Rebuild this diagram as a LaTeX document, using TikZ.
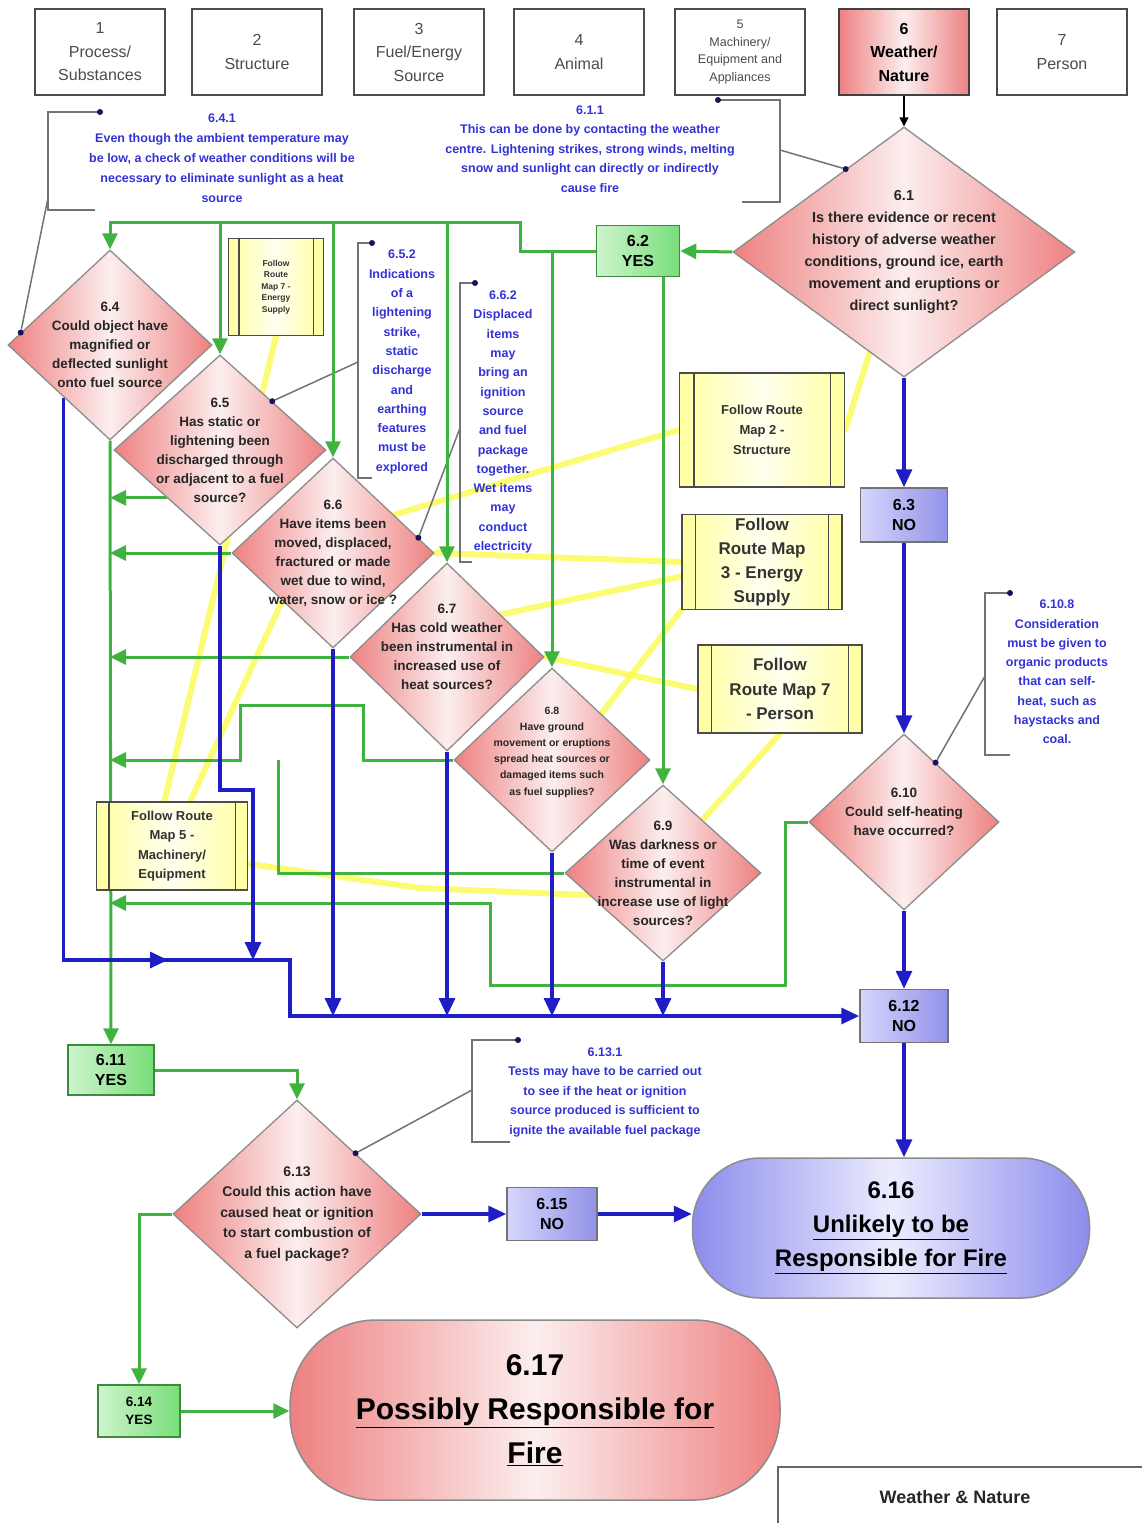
\documentclass[tikz,border=0pt]{standalone}
\usepackage{fontspec}
\setmainfont{Liberation Sans}
\usetikzlibrary{shapes.geometric,arrows.meta,calc}
\pgfdeclarelayer{bg}
\pgfdeclarelayer{lines}
\pgfsetlayers{bg,lines,main}

\definecolor{pinkd}{RGB}{238,128,128}
\definecolor{pinkl}{RGB}{252,238,238}
\definecolor{bluls}{RGB}{140,140,236}
\definecolor{blulc}{RGB}{236,236,255}
\definecolor{nol}{RGB}{214,214,252}
\definecolor{nor}{RGB}{146,146,232}
\definecolor{yesl}{RGB}{206,244,206}
\definecolor{yesr}{RGB}{120,222,120}
\definecolor{yesd}{RGB}{60,140,60}
\definecolor{yel}{RGB}{255,255,160}
\definecolor{grn}{RGB}{64,178,64}
\definecolor{blu}{RGB}{30,30,196}
\definecolor{ylw}{RGB}{250,250,70}
\definecolor{notecol}{RGB}{50,50,214}
\definecolor{navy}{RGB}{20,20,90}

\tikzset{
  topbox/.style={draw=black!70, line width=1.3pt, fill=white, minimum width=130pt,
    minimum height=86pt, align=center, text=black!70, inner sep=1pt,
    font=\fontsize{16}{23.5}\selectfont},
  dia/.style={diamond, draw=black!45, line width=1.3pt, inner sep=0pt,
    left color=pinkd, right color=pinkd, middle color=pinkl},
  dtxt/.style={align=center, inner sep=0pt, text=black!85,
    font=\bfseries\fontsize{13.5}{19}\selectfont},
  yesbox/.style={draw=yesd, line width=1.5pt, left color=yesl, right color=yesr,
    minimum width=83pt, minimum height=51pt, align=center, inner sep=0pt,
    font=\bfseries\fontsize{16}{20}\selectfont},
  nobox/.style={draw=black!55, line width=1.5pt, left color=nol, right color=nor,
    minimum width=87pt, minimum height=54pt, align=center, inner sep=0pt,
    font=\bfseries\fontsize{16}{20}\selectfont},
  route/.style={draw=black!70, line width=1.3pt, left color=yel, right color=yel,
    middle color=yellow!6, align=center, inner sep=0pt, text=black!80},
  routeline/.style={draw=black!70, line width=1.3pt},
  endbox/.style={rectangle, draw=black!45, line width=1.5pt, align=center, inner sep=0pt},
  note/.style={text=notecol, align=center, inner sep=0pt,
    font=\bfseries\fontsize{12.5}{19.3}\selectfont},
  bracket/.style={draw=black!55, line width=1.5pt},
  ndot/.style={circle, fill=navy, inner sep=0pt, minimum size=6pt},
  gline/.style={draw=grn, line width=3pt},
  garrow/.style={gline, -{Triangle[length=16pt,width=15pt]}},
  bline/.style={draw=blu, line width=3.2pt},
  barrow/.style={bline, -{Triangle[length=18pt,width=16pt]}},
  yline/.style={draw=ylw, line width=6pt, line cap=round, opacity=0.75},
}

\begin{document}
\begin{tikzpicture}[x=1pt,y=-1pt]
\useasboundingbox (0,0) rectangle (1142,1523);

% category boxes
\node[topbox] (t1) at (100,52) {1\\Process/\\Substances};
\node[topbox] (t2) at (257,52) {2\\Structure};
\node[topbox] (t3) at (419,52) {3\\Fuel/Energy\\Source};
\node[topbox] (t4) at (579,52) {4\\Animal};
\node[topbox,font=\fontsize{12.5}{17.5}\selectfont] (t5) at (740,52) {5\\Machinery/\\Equipment and\\Appliances};
\node[topbox,draw=black!75,left color=pinkd,right color=pinkd,middle color=pinkl,text=black,
  font=\bfseries\fontsize{16}{23.5}\selectfont] (t6) at (904,52) {6\\Weather/\\Nature};
\node[topbox] (t7) at (1062,52) {7\\Person};

% questions
\node[dia,minimum width=342pt,minimum height=250pt,label={[dtxt,font=\bfseries\fontsize{14.5}{22}\selectfont]center:{6.1\\Is there evidence or recent\\history of adverse weather\\conditions, ground ice, earth\\movement and eruptions or\\direct sunlight?}}] (d61) at (904,252) {};
\node[dia,minimum width=204pt,minimum height=190pt,label={[dtxt]center:{6.4\\Could object have\\magnified or\\deflected sunlight\\onto fuel source}}] (d64) at (110,345) {};
\node[dia,minimum width=212pt,minimum height=190pt,label={[dtxt]center:{6.5\\Has static or\\lightening been\\discharged through\\or adjacent to a fuel\\source?}}] (d65) at (220,450) {};
\node[dia,minimum width=202pt,minimum height=190pt,label={[dtxt]center:{6.6\\Have items been\\moved, displaced,\\fractured or made\\wet due to wind,\\water, snow or ice ?}}] (d66) at (333,553) {};
\node[dia,minimum width=194pt,minimum height=188pt,label={[dtxt,yshift=10pt]center:{6.7\\Has cold weather\\been instrumental in\\increased use of\\heat sources?}}] (d67) at (447,657) {};
\node[dia,minimum width=196pt,minimum height=184pt,label={[dtxt,yshift=8pt,font=\bfseries\fontsize{10.5}{16.2}\selectfont]center:{6.8\\Have ground\\movement or eruptions\\spread heat sources or\\damaged items such\\as fuel supplies?}}] (d68) at (552,760) {};
\node[dia,minimum width=196pt,minimum height=176pt,label={[dtxt]center:{6.9\\Was darkness or\\time of event\\instrumental in\\increase use of light\\sources?}}] (d69) at (663,873) {};
\node[dia,minimum width=190pt,minimum height=176pt,label={[dtxt,yshift=10pt]center:{6.10\\Could self-heating\\have occurred?}}] (d610) at (904,822) {};
\node[dia,minimum width=248pt,minimum height=228pt,label={[dtxt,font=\bfseries\fontsize{14}{20.5}\selectfont]center:{6.13\\Could this action have\\caused heat or ignition\\to start combustion of\\a fuel package?}}] (d613) at (297,1214) {};

% answers
\node[yesbox] (y62) at (638,251) {6.2\\YES};
\node[nobox] (n63) at (904,515) {6.3\\NO};
\node[yesbox,minimum width=86pt,minimum height=50pt] (y611) at (111,1070) {6.11\\YES};
\node[nobox,minimum width=88pt,minimum height=53pt] (n612) at (904,1016) {6.12\\NO};
\node[nobox,minimum width=90pt,minimum height=53pt] (n615) at (552,1214) {6.15\\NO};
\node[yesbox,minimum width=82pt,minimum height=52pt,font=\bfseries\fontsize{13.5}{18}\selectfont] (y614) at (139,1411) {6.14\\YES};

% outcomes
\node[endbox,rounded corners=68pt,minimum width=397pt,minimum height=140pt,
  left color=bluls,right color=bluls,middle color=blulc,
  font=\bfseries\fontsize{24}{34}\selectfont] (s616) at (891,1228)
  {6.16\\\underline{Unlikely to be}\\\underline{Responsible for Fire}};
\node[endbox,rounded corners=86pt,minimum width=490pt,minimum height=180pt,
  left color=pinkd,right color=pinkd,middle color=pinkl,
  font=\bfseries\fontsize{30}{44}\selectfont] (s617) at (535,1410)
  {6.17\\\underline{Possibly Responsible for}\\\underline{Fire}};

% route maps
\node[route,minimum width=95pt,minimum height=97pt,font=\bfseries\fontsize{8.5}{11.5}\selectfont] (fr7e) at (276,287) {Follow\\Route\\Map 7 -\\Energy\\Supply};
\node[route,minimum width=165pt,minimum height=114pt,font=\bfseries\fontsize{13}{20}\selectfont] (fr2) at (762,430) {Follow Route\\Map 2 -\\Structure};
\node[route,minimum width=160pt,minimum height=95pt,font=\bfseries\fontsize{17}{24}\selectfont] (fr3) at (762,562) {Follow\\Route Map\\3 - Energy\\Supply};
\node[route,minimum width=164pt,minimum height=88pt,font=\bfseries\fontsize{17}{24.5}\selectfont] (fr7p) at (780,689) {Follow\\Route Map 7\\- Person};
\node[route,minimum width=151pt,minimum height=88pt,font=\bfseries\fontsize{13}{19.5}\selectfont] (fr5) at (172,846) {Follow Route\\Map 5 -\\Machinery/\\Equipment};
\foreach \r/\o in {fr7e/11,fr2/15,fr3/14,fr7p/14,fr5/13} {
  \draw[routeline] ([xshift=\o pt]\r.north west) -- ([xshift=\o pt]\r.south west);
  \draw[routeline] ([xshift=-\o pt]\r.north east) -- ([xshift=-\o pt]\r.south east);
}

% notes
\node[note,font=\bfseries\fontsize{12.5}{20}\selectfont] (n641) at (222,158) {6.4.1\\Even though the ambient temperature may\\be low, a check of weather conditions will be\\necessary to eliminate sunlight as a heat\\source};
\draw[bracket] (100,112) -- (48,112) -- (48,210) -- (95,210);
\node[ndot] (k641) at (100,112) {};
\coordinate (c641) at (48,198);
\node[ndot] (p641) at ($(d64.west)!0.13!(d64.north)$) {};

\node[note,font=\bfseries\fontsize{12.5}{19.5}\selectfont] (n611) at (590,149) {6.1.1\\This can be done by contacting the weather\\centre. Lightening strikes, strong winds, melting\\snow and sunlight can directly or indirectly\\cause fire};
\draw[bracket] (718,100) -- (780,100) -- (780,202) -- (742,202);
\node[ndot] (k611) at (718,100) {};
\coordinate (c611) at (780,150);
\node[ndot] (p611) at ($(d61.north)!0.34!(d61.west)$) {};

\node[note] (n652) at (402,362) {6.5.2\\Indications\\of a\\lightening\\strike,\\static\\discharge\\and\\earthing\\features\\must be\\explored};
\draw[bracket] (372,243) -- (358,243) -- (358,478) -- (372,478);
\node[ndot] (k652) at (372,243) {};
\coordinate (c652) at (358,362);
\node[ndot] (p652) at ($(d65.north)!0.49!(d65.east)$) {};

\node[note] (n662) at (503,422) {6.6.2\\Displaced\\items\\may\\bring an\\ignition\\source\\and fuel\\package\\together.\\Wet items\\may\\conduct\\electricity};
\draw[bracket] (475,283) -- (460,283) -- (460,562) -- (472,562);
\node[ndot] (k662) at (475,283) {};
\coordinate (c662) at (460,428);
\node[ndot] (p662) at ($(d66.north)!0.84!(d66.east)$) {};

\node[note] (n6108) at (1057,672) {6.10.8\\Consideration\\must be given to\\organic products\\that can self-\\heat, such as\\haystacks and\\coal.};
\draw[bracket] (1010,593) -- (985,593) -- (985,755) -- (1010,755);
\node[ndot] (k6108) at (1010,593) {};
\coordinate (c6108) at (985,676);
\node[ndot] (p6108) at ($(d610.north)!0.33!(d610.east)$) {};

\node[note,font=\bfseries\fontsize{12.5}{19.5}\selectfont] (n6131) at (605,1092) {6.13.1\\Tests may have to be carried out\\to see if the heat or ignition\\source produced is sufficient to\\ignite the available fuel package};
\draw[bracket] (518,1040) -- (472,1040) -- (472,1142) -- (510,1142);
\node[ndot] (k6131) at (518,1040) {};
\coordinate (c6131) at (472,1090);
\node[ndot] (p6131) at ($(d613.north)!0.47!(d613.east)$) {};

% legend
\draw[black!60,line width=1.5pt] (778,1523) -- (778,1467) -- (1142,1467);
\node[font=\bfseries\fontsize{18}{22}\selectfont,text=black!85] (lgd) at (955,1497) {Weather \& Nature};

% route map links
\begin{pgfonlayer}{bg}
\draw[yline] ($(d61.south)!0.2!(d61.west)$) -- (fr2.east);
\draw[yline] (fr7e.south) -- ($(fr5.north west)!0.45!(fr5.north east)$);
\draw[yline] ($(d66.west)!0.5!(d66.south)$) -- ($(fr5.north west)!0.62!(fr5.north east)$);
\draw[yline] ($(d66.north)!0.6!(d66.east)$) -- (fr2.west);
\draw[yline] (d66.east) -- (fr3.west);
\draw[yline] ($(d67.north)!0.55!(d67.east)$) -- ($(fr3.west)!0.3!(fr3.south west)$);
\draw[yline] (d67.east) -- (fr7p.west);
\draw[yline] ($(d68.north)!0.5!(d68.east)$) -- (fr3.south west);
\draw[yline] ($(d69.north)!0.4!(d69.east)$) -- (fr7p.south);
\draw[yline] ($(d69.west)!0.25!(d69.south)$) -- (420,888) -- ($(fr5.east)!0.4!(fr5.south east)$);
\end{pgfonlayer}

\begin{pgfonlayer}{lines}
% note leaders
\draw[bracket] (c641) -- (p641);
\draw[bracket] (c611) -- (p611);
\draw[bracket] (c652) -- (p652);
\draw[bracket] (c662) -- (p662);
\draw[bracket] (c6108) -- (p6108);
\draw[bracket] (c6131) -- (p6131);
\draw[line width=1.3pt,-{Triangle[length=9pt,width=9pt]}] (t6.south) -- (d61.north);

% yes routes
\coordinate (gtop) at (520,222);
\draw[garrow] (d61.west) -- (y62.east);
\draw[garrow] (y62.west) -- (y62.west -| gtop) -- (gtop) -- (d64.north |- gtop) -- (d64.north);
\draw[garrow] (d65.north |- gtop) -- (d65.north);
\draw[garrow] (d66.north |- gtop) -- (d66.north);
\draw[garrow] (d67.north |- gtop) -- (d67.north);
\draw[garrow] (d68.north |- y62.west) -- (d68.north);
\draw[garrow] (d69.north |- y62.south) -- (d69.north);
\draw[garrow] (d65.south west) -- (d65.south west -| d64.south);
\draw[garrow] (d66.west) -- (d66.west -| d64.south);
\draw[garrow] (d67.west) -- (d67.west -| d64.south);
\coordinate (g68a) at (363,705);
\coordinate (g68b) at (240,705);
\draw[garrow] (d68.west) -- (d68.west -| g68a) -- (g68a) -- (g68b) -- (g68b |- d68.west) -- (d68.west -| d64.south);
\coordinate (g69) at (278,873);
\draw[gline] (d69.west) -- (g69) -- (g69 |- d68.west);
\coordinate (g610a) at (785,985);
\coordinate (g610b) at (490,903);
\draw[garrow] (d610.west) -| (g610a) -- (g610a -| g610b) -- (g610b) -- (g610b -| d64.south);
\draw[garrow] (d64.south) -- (y611.north);
\draw[garrow] (y611.east) -| (d613.north);
\draw[garrow] (d613.west) -| (y614.north);
\draw[garrow] (y614.east) -- (y614.east -| s617.west);

% no routes
\draw[barrow] (d61.south) -- (n63.north);
\draw[barrow] (n63.south) -- (d610.north);
\draw[barrow] (d610.south) -- (n612.north);
\draw[barrow] (n612.south) -- (n612.south |- s616.north);
\coordinate (b64) at ($(d64.west)!0.55!(d64.south)$);
\coordinate (bl) at (b64 |- 0,960);
\coordinate (bm) at (168,960);
\coordinate (bc1) at (290,960);
\coordinate (bc2) at (290,1016);
\draw[barrow] (b64) -- (bl) -- (bc1) -- (bc2) -- (n612.west);
\draw[barrow] (bl) -- (bm);
\coordinate (b65) at (253,790);
\draw[barrow] (d65.south) -- (d65.south |- b65) -- (b65) -- (b65 |- bc1);
\draw[barrow] (d66.south) -- (d66.south |- bc2);
\draw[barrow] (d67.south) -- (d67.south |- bc2);
\draw[barrow] (d68.south) -- (d68.south |- bc2);
\draw[barrow] (d69.south) -- (d69.south |- bc2);
\draw[barrow] (d613.east) -- (n615.west);
\draw[barrow] (n615.east) -- (n615.east -| s616.west);
\end{pgfonlayer}
\end{tikzpicture}
\end{document}
